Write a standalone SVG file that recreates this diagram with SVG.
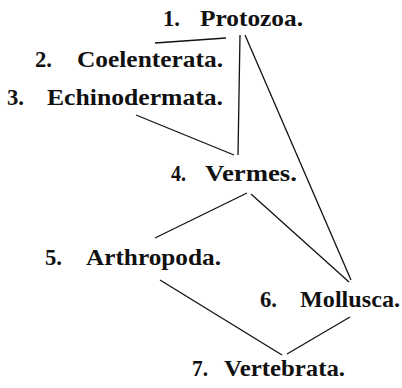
<svg xmlns="http://www.w3.org/2000/svg" width="402" height="388" viewBox="0 0 402 388">
<style>
text{font-family:"Liberation Serif","DejaVu Serif",serif;font-weight:bold;font-size:24px;fill:#111}
.c line{stroke:#111;stroke-width:1.3;fill:none}
</style>
<rect width="402" height="388" fill="#fff"/>
<g class="c" id="connectors">
<line x1="155" y1="43" x2="226" y2="38"/>
<line x1="240" y1="35" x2="238" y2="155"/>
<line x1="136" y1="115" x2="234" y2="155"/>
<line x1="245" y1="35" x2="351" y2="280"/>
<line x1="247" y1="193" x2="155" y2="238"/>
<line x1="251" y1="194" x2="349" y2="282"/>
<line x1="160" y1="280" x2="282" y2="355"/>
<line x1="350" y1="317" x2="287" y2="354"/>
</g>
<g id="n1"><text x="163" y="26" textLength="17" lengthAdjust="spacingAndGlyphs">1.</text><text x="200" y="26" textLength="103" lengthAdjust="spacingAndGlyphs">Protozoa.</text></g>
<g id="n2"><text x="35" y="67" textLength="17" lengthAdjust="spacingAndGlyphs">2.</text><text x="77" y="67" textLength="146" lengthAdjust="spacingAndGlyphs">Coelenterata.</text></g>
<g id="n3"><text x="7" y="105" textLength="17" lengthAdjust="spacingAndGlyphs">3.</text><text x="47" y="105" textLength="176" lengthAdjust="spacingAndGlyphs">Echinodermata.</text></g>
<g id="n4"><text x="171" y="181" textLength="15" lengthAdjust="spacingAndGlyphs">4.</text><text x="205" y="181" textLength="92" lengthAdjust="spacingAndGlyphs">Vermes.</text></g>
<g id="n5"><text x="45" y="265" textLength="17" lengthAdjust="spacingAndGlyphs">5.</text><text x="86" y="265" textLength="135" lengthAdjust="spacingAndGlyphs">Arthropoda.</text></g>
<g id="n6"><text x="260" y="307" textLength="17" lengthAdjust="spacingAndGlyphs">6.</text><text x="300" y="307" textLength="100" lengthAdjust="spacingAndGlyphs">Mollusca.</text></g>
<g id="n7"><text x="192" y="376" textLength="16" lengthAdjust="spacingAndGlyphs">7.</text><text x="224" y="376" textLength="121" lengthAdjust="spacingAndGlyphs">Vertebrata.</text></g>
</svg>
